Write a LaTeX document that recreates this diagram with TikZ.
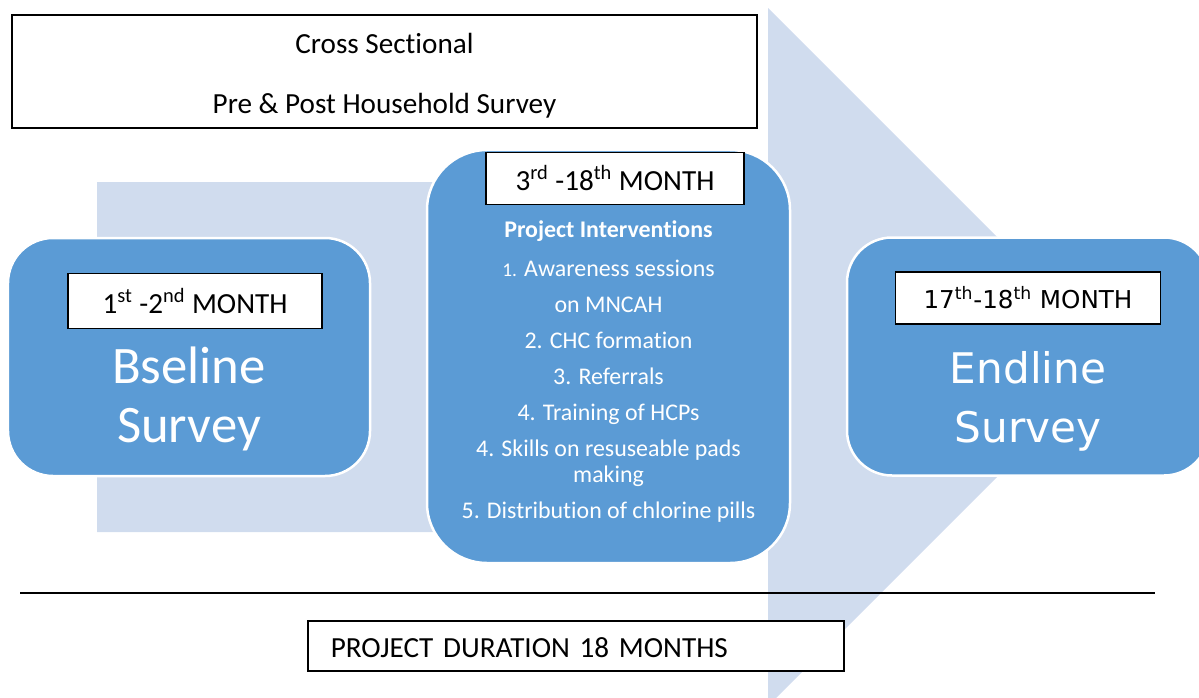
\documentclass[tikz,border=0pt]{standalone}
\usepackage{fontspec}
\setmainfont{Carlito}[Ligatures=NoCommon]
\newfontfamily\widefont{DejaVu Sans}
\usepackage{tikz}
\usetikzlibrary{positioning}
\definecolor{stageblue}{RGB}{91,155,213}
\definecolor{shadeblue}{RGB}{208,220,238}
\tikzset{
  stage/.style={draw=white, line width=0.5mm, fill=stageblue, rounded corners=9mm,
    minimum width=72.4mm, minimum height=47.6mm},
  tag/.style={draw=black, line width=0.3mm, fill=white, align=center, inner sep=0pt,
    font=\fontsize{16.6}{19}\selectfont, minimum height=11mm},
  bigtext/.style={text=white, align=center, inner sep=0pt,
    font=\fontsize{30}{33.6}\selectfont},
  note/.style={draw=black, line width=0.3mm, fill=white, font=\fontsize{16.6}{19}\selectfont}
}

\begin{document}
\begin{tikzpicture}[x=0.2mm, y=-0.2mm,
  listtext/.style={text=white, align=center, inner sep=0pt,
    font=\fontsize{13.6}{15}\selectfont}
]
  \useasboundingbox (0,0) rectangle (1199,698);
  \clip (0,0) rectangle (1199,698);

  % big shaded arrow behind the stages
  \fill[shadeblue] (97,182) -- (768,182) -- (768,8) -- (1117,357)
    -- (768,706) -- (768,532) -- (97,532) -- cycle;

  \node[note, minimum width=149mm, minimum height=22.6mm] (design) at (384.5,71.5) {};
  \node[align=center, font=\fontsize{16.6}{19}\selectfont] (designtext)
    at ([yshift=-0.8mm]design.center) {Cross Sectional\\[15pt]Pre \& Post Household Survey};

  % the three stages
  \node[stage] (base) at (189,357) {};
  \node[stage, rounded corners=12mm, minimum height=82.6mm, minimum width=72.6mm]
    (interv) at (608.5,356.5) {};
  \node[stage] (endline) at (1028,356.5) {};

  \node[tag, minimum width=50.8mm, below=7.2mm of base.north, xshift=1.2mm] (basetag)
    {1\textsuperscript{st} -2\textsuperscript{nd} MONTH};
  \node[tag, minimum width=51.6mm, minimum height=10.4mm, below=0.6mm of interv.north,
    xshift=1.3mm] (intervtag) {3\textsuperscript{rd} -18\textsuperscript{th} MONTH};
  \node[tag, minimum width=53mm, minimum height=10.4mm, below=7mm of endline.north,
    font=\widefont\fontsize{14}{17}\selectfont] (endtag)
    {17\textsuperscript{th}-18\textsuperscript{th} MONTH};

  \node[bigtext, below=3.4mm of basetag, xshift=-1.2mm] (basename) {Bseline\\Survey};
  \node[bigtext, below=5.2mm of endtag, font=\widefont\fontsize{24}{33.6}\selectfont]
    (endname) {Endline\\Survey};

  \node[listtext, below=3mm of intervtag, xshift=-1.3mm] (steps)
    {\textbf{Project Interventions}\\[7pt]
     {\fontsize{11}{15}\selectfont 1.} Awareness sessions\\[5.5pt]
     on MNCAH\\[5.5pt]
     2. CHC formation\\[5.5pt]
     3. Referrals\\[5.5pt]
     4. Training of HCPs\\[5.5pt]
     4. Skills on resuseable pads\\
     making\\[5.5pt]
     5. Distribution of chlorine pills};

  % time line and duration
  \coordinate (rulel) at (20,593);
  \coordinate (ruler) at (1155,593);
  \draw[line width=0.25mm] (rulel) -- (ruler);

  \node[note, anchor=west, minimum height=10mm, inner xsep=4.6mm, text width=98mm,
    align=left, text height=4.4mm, text depth=0mm] (duration) at (307,646)
    {PROJECT DURATION 18 MONTHS};
\end{tikzpicture}
\end{document}
